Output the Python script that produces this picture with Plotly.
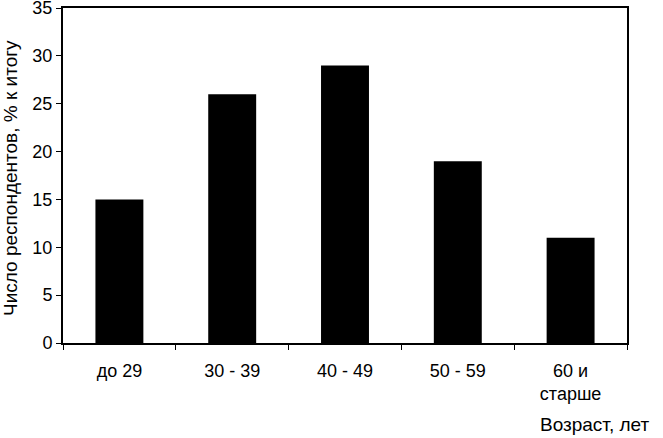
import plotly.graph_objects as go

categories = ["до 29", "30 - 39", "40 - 49", "50 - 59", "60 и<br>старше"]
values = [15, 26, 29, 19, 11]
y_ticks = [0, 5, 10, 15, 20, 25, 30, 35]
y_title = "Число респондентов, % к итогу"
x_title = "Возраст, лет"

FONT = "Liberation Sans, Arial, sans-serif"

fig = go.Figure()
fig.add_trace(go.Bar(x=categories, y=values, marker=dict(color="black", line=dict(width=0))))

fig.update_layout(
    width=663, height=438,
    margin=dict(l=63, r=36, t=8, b=95),
    plot_bgcolor="white", paper_bgcolor="white",
    bargap=0.575,
    showlegend=False,
    font=dict(family=FONT, size=18, color="black"),
)
fig.update_xaxes(
    showline=True, linecolor="black", linewidth=2, mirror=True,
    ticks="outside", ticklen=5, tickcolor="black", tickwidth=1,
    tickson="boundaries", showgrid=False, automargin=False,
    tickfont=dict(family=FONT, size=18, color="black"),
    ticklabelstandoff=10,
)
fig.update_yaxes(
    range=[0, 35], tickvals=y_ticks,
    showline=True, linecolor="black", linewidth=2, mirror=True,
    ticks="outside", ticklen=5, tickcolor="black", tickwidth=1,
    showgrid=False, zeroline=False, automargin=False,
    ticklabeloverflow="allow",
    tickfont=dict(family=FONT, size=18, color="black"),
)
fig.add_annotation(
    text=y_title, xref="paper", yref="paper", x=-0.094, y=0.4925,
    xanchor="center", yanchor="middle", textangle=-90, showarrow=False,
    font=dict(family=FONT, size=19, color="black"),
)
fig.add_annotation(
    text=x_title, xref="paper", yref="paper", x=1.044, y=-0.242,
    xanchor="right", yanchor="middle", showarrow=False,
    font=dict(family=FONT, size=19, color="black"),
)
fig.write_html(
    "out.html",
    config={"displayModeBar": False},
    post_script="document.body.style.margin='0';document.body.style.overflow='hidden';",
)
